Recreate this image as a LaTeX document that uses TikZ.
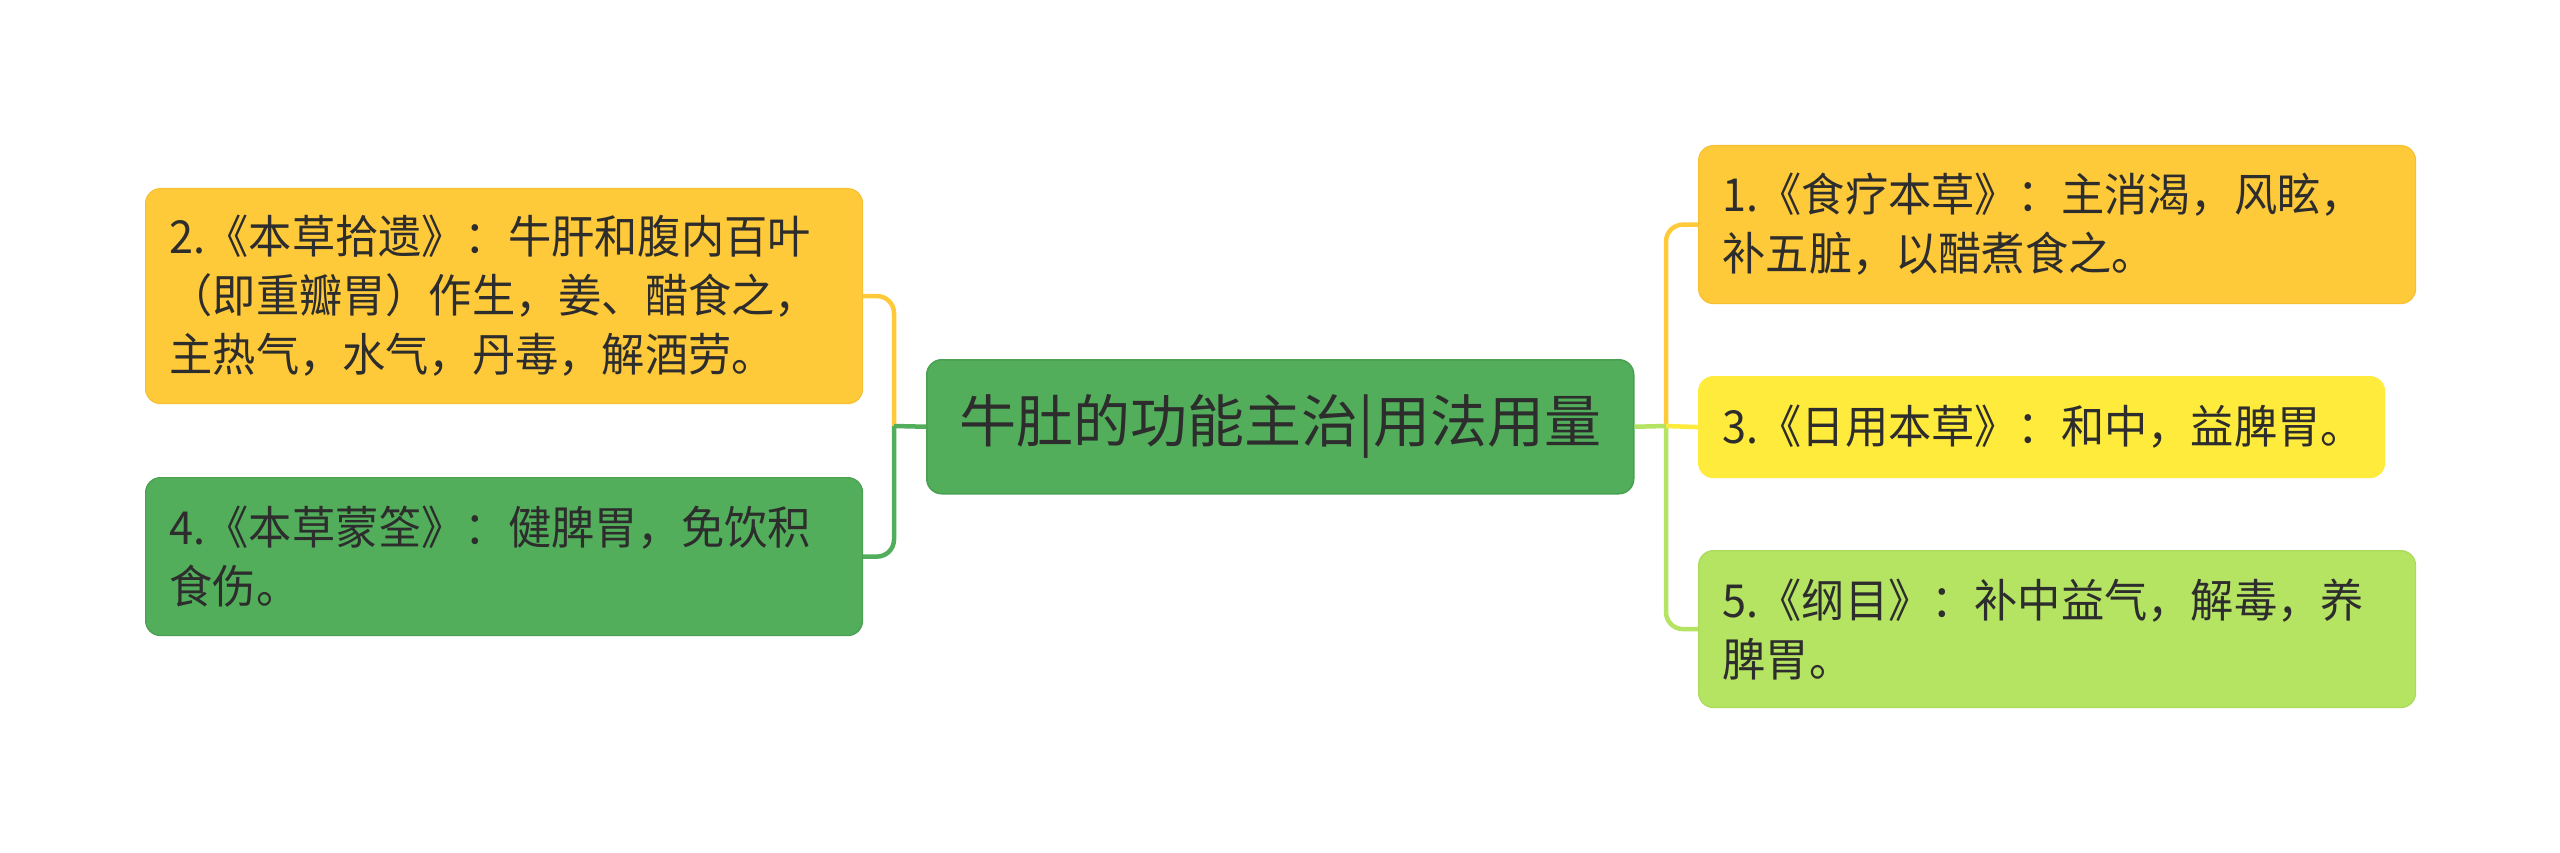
\documentclass[tikz,border=0pt]{standalone}
\usepackage{fontspec}
\setmainfont{Noto Sans CJK SC}
\newfontfamily\boxfont[FakeStretch=0.95]{Noto Sans CJK SC}
\definecolor{cOrange}{RGB}{255,202,58}
\definecolor{cOrangeD}{RGB}{246,192,50}
\definecolor{cGreen}{RGB}{82,174,90}
\definecolor{cGreenD}{RGB}{72,160,80}
\definecolor{cYellow}{RGB}{255,235,59}
\definecolor{cLGreen}{RGB}{181,227,98}
\definecolor{cLGreenD}{RGB}{170,218,88}
\definecolor{cText}{RGB}{45,45,45}
\begin{document}
\begin{tikzpicture}[x=1pt,y=-1pt,
  box/.style={rectangle, rounded corners=15pt, anchor=north west, inner xsep=24pt, inner ysep=0pt,
    align=left, text=cText, font=\boxfont\fontsize{45.5}{59}\selectfont, line width=1.2pt},
  mainbox/.style={rectangle, rounded corners=15pt, anchor=north west, inner xsep=0pt, inner ysep=0pt,
    align=center, text=cText, font=\fontsize{57}{66}\selectfont, fill=cGreen, draw=cGreenD, line width=1.5pt},
  conn/.style={line width=4.5pt, rounded corners=17pt}
]
\useasboundingbox (0,0) rectangle (2560,853);
\fill[white] (0,0) rectangle (2560,853);

\node[mainbox, minimum width=707pt, minimum height=134pt] (c) at (926,359) {牛肚的功能主治|用法用量};

\node[box, fill=cOrange, draw=cOrangeD, minimum width=717pt, minimum height=215pt, text width=669pt] (n2) at (145,188)
  {2.《本草拾遗》：牛肝和腹内百叶\\（即重瓣胃）作生，姜、醋食之，\\主热气，水气，丹毒，解酒劳。};
\node[box, fill=cGreen, draw=cGreenD, minimum width=717pt, minimum height=158pt, text width=669pt] (n4) at (145,477)
  {4.《本草蒙筌》：健脾胃，免饮积\\食伤。};
\node[box, fill=cOrange, draw=cOrangeD, minimum width=717pt, minimum height=158pt, text width=669pt] (n1) at (1698,145)
  {1.《食疗本草》：主消渴，风眩，\\补五脏，以醋煮食之。};
\node[box, fill=cYellow, draw=cYellow, minimum width=686pt, minimum height=101pt, text width=638pt] (n3) at (1698,376)
  {3.《日用本草》：和中，益脾胃。};
\node[box, fill=cLGreen, draw=cLGreenD, minimum width=717pt, minimum height=157pt, text width=669pt] (n5) at (1698,550)
  {5.《纲目》：补中益气，解毒，养\\脾胃。};

\coordinate (jl) at (894,426);
\coordinate (jr) at (1666,426);

\draw[conn, cOrange] (jl) |- (n2.east);
\draw[conn, cGreen] (jl) |- (n4.east);
\draw[conn, cGreen] (c.west) -- (jl);

\draw[conn, cOrange] (jr) |- (n1.west);
\draw[conn, cLGreen] (jr) |- (n5.west);
\draw[conn, cYellow] (jr) -- (n3.west);
\draw[conn, cLGreen] (c.east) -- (jr);
\end{tikzpicture}
\end{document}
